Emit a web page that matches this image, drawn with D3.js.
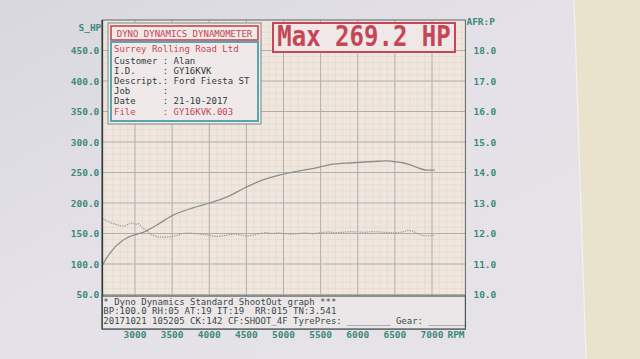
<!DOCTYPE html>
<html>
<head>
<meta charset="utf-8">
<script src="https://cdn.jsdelivr.net/npm/d3@7"></script>
<style>
  html, body { margin: 0; padding: 0; background: #e4e1e7; }
  svg { display: block; }
  text { font-family: "DejaVu Sans Mono", "Liberation Mono", monospace; white-space: pre; }
</style>
</head>
<body>
<svg id="chart" width="640" height="359"></svg>
<script>
// ---------- DATA ----------
const hpRpm = [2560, 2663, 2838, 2973, 3108, 3296, 3512, 3781, 4010, 4239, 4481, 4724, 4953, 5182, 5451, 5626, 5936, 6205, 6394, 6475, 6609, 6744, 6933, 7040];
const hpValues = [98, 118, 139, 147, 152, 164, 180, 192, 200, 210, 225, 238, 246, 252, 258, 263, 266, 268, 269.2, 268, 266, 261, 254, 254];

const afrRpm = [2560, 2620, 2680, 2740, 2800, 2860, 2910, 2960, 3000, 3050, 3100, 3150, 3200, 3260, 3320, 3400, 3480, 3560, 3640, 3720, 3800, 3880, 3960, 4040, 4120, 4200, 4280, 4360, 4440, 4520, 4600, 4680, 4760, 4840, 4920, 5000, 5100, 5200, 5300, 5400, 5500, 5600, 5700, 5800, 5900, 6000, 6100, 6200, 6300, 6400, 6500, 6600, 6680, 6740, 6800, 6860, 6940, 7000, 7040];
const afrValues = [12.5, 12.42, 12.35, 12.3, 12.25, 12.24, 12.3, 12.35, 12.3, 12.32, 12.2, 12.1, 12.0, 11.92, 11.88, 11.88, 11.9, 11.93, 12.0, 12.02, 12.0, 11.98, 11.96, 11.92, 11.9, 11.93, 11.97, 11.98, 11.94, 11.92, 11.95, 12.0, 12.03, 12.0, 12.02, 12.0, 11.98, 12.0, 12.02, 11.99, 12.03, 12.05, 12.03, 12.04, 12.06, 12.05, 12.04, 12.06, 12.05, 12.03, 12.02, 12.05, 12.1, 12.08, 12.0, 11.94, 11.92, 11.93, 11.96];

const rpmTicks = [3000, 3500, 4000, 4500, 5000, 5500, 6000, 6500, 7000];
const hpTicks = [50, 100, 150, 200, 250, 300, 350, 400, 450];
const afrTicks = [10, 11, 12, 13, 14, 15, 16, 17, 18];

const leftTitle = "S_HP";
const rightTitle = "AFR:P";
const rpmLabel = "RPM";
const maxText = "Max 269.2 HP";
const headerText = "DYNO DYNAMICS DYNAMOMETER";
const infoCompany = "Surrey Rolling Road Ltd";
const infoRows = [
  ["Customer", "Alan"],
  ["I.D.", "GY16KVK"],
  ["Descript.", "Ford Fiesta ST"],
  ["Job", ""],
  ["Date", "21-10-2017"],
  ["File", "GY16KVK.003"]
];
const footerLines = [
  "* Dyno Dynamics Standard ShootOut graph ***",
  "BP:100.0 RH:05 AT:19 IT:19  RR:015 TN:3.541",
  "20171021 105205 CK:142 CF:SHOOT_4F TyrePres: ________ Gear: _______"
];

// ---------- SETUP ----------
const svg = d3.select("#chart");
const W = 640, H = 359;

const defs = svg.append("defs");
const g1 = defs.append("linearGradient").attr("id", "paper").attr("x1", 0).attr("y1", 0).attr("x2", 1).attr("y2", 1);
g1.append("stop").attr("offset", "0%").attr("stop-color", "#d9d7de");
g1.append("stop").attr("offset", "45%").attr("stop-color", "#e4e1e8");
g1.append("stop").attr("offset", "100%").attr("stop-color", "#e6e3e8");
svg.append("rect").attr("width", W).attr("height", H).attr("fill", "url(#paper)");
svg.append("polygon").attr("points", "574,0 640,0 640,359 586,359").attr("fill", "#e9e3cd");
svg.append("line").attr("x1", 574).attr("y1", 0).attr("x2", 586).attr("y2", 359).attr("stroke", "#f4f1ef").attr("stroke-width", 1.2);

const x = d3.scaleLinear().domain([3000, 7000]).range([135, 432]);
const y = d3.scaleLinear().domain([0, 500]).range([325, 20]);
const yAfr = d3.scaleLinear().domain([9, 19]).range([325, 20]);

const pL = x(2560), pR = x(7450), pT = y(500), pB = 329;
const footTop = 296;

svg.append("rect").attr("x", pL).attr("y", pT).attr("width", pR - pL).attr("height", pB - pT)
  .attr("fill", "#eee6df");

const minorX = d3.range(2600, 7450, 100).filter(v => v % 500 !== 0);
const minorY = d3.range(10, 500, 10).filter(v => v % 50 !== 0);
const grid = svg.append("g");
grid.selectAll(".mx").data(minorX).join("line")
  .attr("x1", d => x(d)).attr("x2", d => x(d)).attr("y1", pT).attr("y2", footTop)
  .attr("stroke", "#e8d6c4").attr("stroke-width", 0.6);
grid.selectAll(".my").data(minorY.filter(v => y(v) < footTop)).join("line")
  .attr("x1", pL).attr("x2", pR).attr("y1", d => y(d)).attr("y2", d => y(d))
  .attr("stroke", "#e8d6c4").attr("stroke-width", 0.6);

grid.selectAll(".Mx").data(rpmTicks).join("line")
  .attr("x1", d => x(d)).attr("x2", d => x(d)).attr("y1", pT).attr("y2", footTop)
  .attr("stroke", "#b2aeaa").attr("stroke-width", 1);
grid.selectAll(".My").data(hpTicks).join("line")
  .attr("x1", pL).attr("x2", pR).attr("y1", d => y(d)).attr("y2", d => y(d))
  .attr("stroke", "#b2aeaa").attr("stroke-width", 1);

const hpData = hpRpm.map((r, i) => [r, hpValues[i]]);
const afrData = afrRpm.map((r, i) => [r, afrValues[i]]);
svg.append("path").datum(afrData)
  .attr("d", d3.line().x(d => x(d[0])).y(d => yAfr(d[1])))
  .attr("fill", "none").attr("stroke", "#979a97").attr("stroke-width", 1.2)
  .attr("stroke-dasharray", "1.3,1.1");
svg.append("path").datum(hpData)
  .attr("d", d3.line().x(d => x(d[0])).y(d => y(d[1])).curve(d3.curveMonotoneX))
  .attr("fill", "none").attr("stroke", "#8c8f8c").attr("stroke-width", 1.3);

svg.append("rect").attr("x", pL).attr("y", pT).attr("width", pR - pL).attr("height", pB - pT)
  .attr("fill", "none").attr("stroke", "#5b6464").attr("stroke-width", 1);
svg.append("line").attr("x1", pL).attr("x2", pL).attr("y1", pT).attr("y2", pB)
  .attr("stroke", "#2f3838").attr("stroke-width", 1.6);

svg.append("rect").attr("x", pL).attr("y", footTop).attr("width", pR - pL).attr("height", pB - footTop)
  .attr("fill", "#ebe7e8").attr("stroke", "#4a5252").attr("stroke-width", 1.2);
svg.selectAll(".foot").data(footerLines).join("text")
  .attr("x", pL + 1).attr("y", (d, i) => 304.5 + i * 9.6)
  .attr("font-size", 9).attr("fill", "#3c4848")
  .text(d => d);

const labelColor = "#3d8a78";
svg.selectAll(".hl").data(hpTicks).join("text")
  .attr("x", pL - 3).attr("y", d => y(d) + 3.5).attr("text-anchor", "end")
  .attr("font-size", 9.5).attr("font-weight", "bold").attr("fill", labelColor)
  .text(d => d3.format(".1f")(d));
svg.append("text").attr("x", pL - 1).attr("y", 31).attr("text-anchor", "end")
  .attr("font-size", 9.5).attr("font-weight", "bold").attr("fill", labelColor).text(leftTitle);

svg.selectAll(".al").data(afrTicks).join("text")
  .attr("x", pR + 8).attr("y", d => yAfr(d) + 3.5).attr("text-anchor", "start")
  .attr("font-size", 9.5).attr("font-weight", "bold").attr("fill", labelColor)
  .text(d => d3.format(".1f")(d));
svg.append("text").attr("x", pR + 1).attr("y", 25).attr("text-anchor", "start")
  .attr("font-size", 9.5).attr("font-weight", "bold").attr("fill", labelColor).text(rightTitle);

svg.selectAll(".xl").data(rpmTicks).join("text")
  .attr("x", d => x(d)).attr("y", 338).attr("text-anchor", "middle")
  .attr("font-size", 9.5).attr("font-weight", "bold").attr("fill", labelColor)
  .text(d => d);
svg.append("text").attr("x", 456).attr("y", 338).attr("text-anchor", "middle")
  .attr("font-size", 9.5).attr("font-weight", "bold").attr("fill", labelColor).text(rpmLabel);

const red = "#c64556";
const teal = "#4a9fa6";
svg.append("rect").attr("x", 108).attr("y", 23).attr("width", 153).attr("height", 101)
  .attr("fill", "#eeeae8").attr("stroke", "#7d8888").attr("stroke-width", 1);
svg.append("rect").attr("x", 111).attr("y", 26).attr("width", 147).attr("height", 14)
  .attr("fill", "#efe9e8").attr("stroke", red).attr("stroke-width", 1.6);
svg.append("text").attr("x", 184.5).attr("y", 36.5).attr("text-anchor", "middle")
  .attr("font-size", 9).attr("fill", red).text(headerText);
svg.append("rect").attr("x", 111).attr("y", 42).attr("width", 147).attr("height", 79)
  .attr("fill", "#efeae9").attr("stroke", teal).attr("stroke-width", 1.8);
svg.append("text").attr("x", 114).attr("y", 52).attr("font-size", 9).attr("fill", red).text(infoCompany);
const rowY = i => 63.5 + i * 10.2;
svg.selectAll(".row").data(infoRows).join("text")
  .attr("x", 114).attr("y", (d, i) => rowY(i)).attr("font-size", 9)
  .attr("fill", (d, i) => i === infoRows.length - 1 ? red : "#333a3a")
  .text(d => d[0].padEnd(9, " ") + ": " + d[1]);

svg.append("rect").attr("x", 273).attr("y", 23).attr("width", 182).attr("height", 29)
  .attr("fill", "#efe8e6").attr("stroke", red).attr("stroke-width", 2);
svg.append("text").attr("x", 0).attr("y", 0).attr("text-anchor", "middle")
  .attr("font-size", 24).attr("font-weight", "bold").attr("fill", red)
  .attr("transform", "translate(364,46) scale(1,1.15)")
  .text(maxText);
</script>
</body>
</html>
